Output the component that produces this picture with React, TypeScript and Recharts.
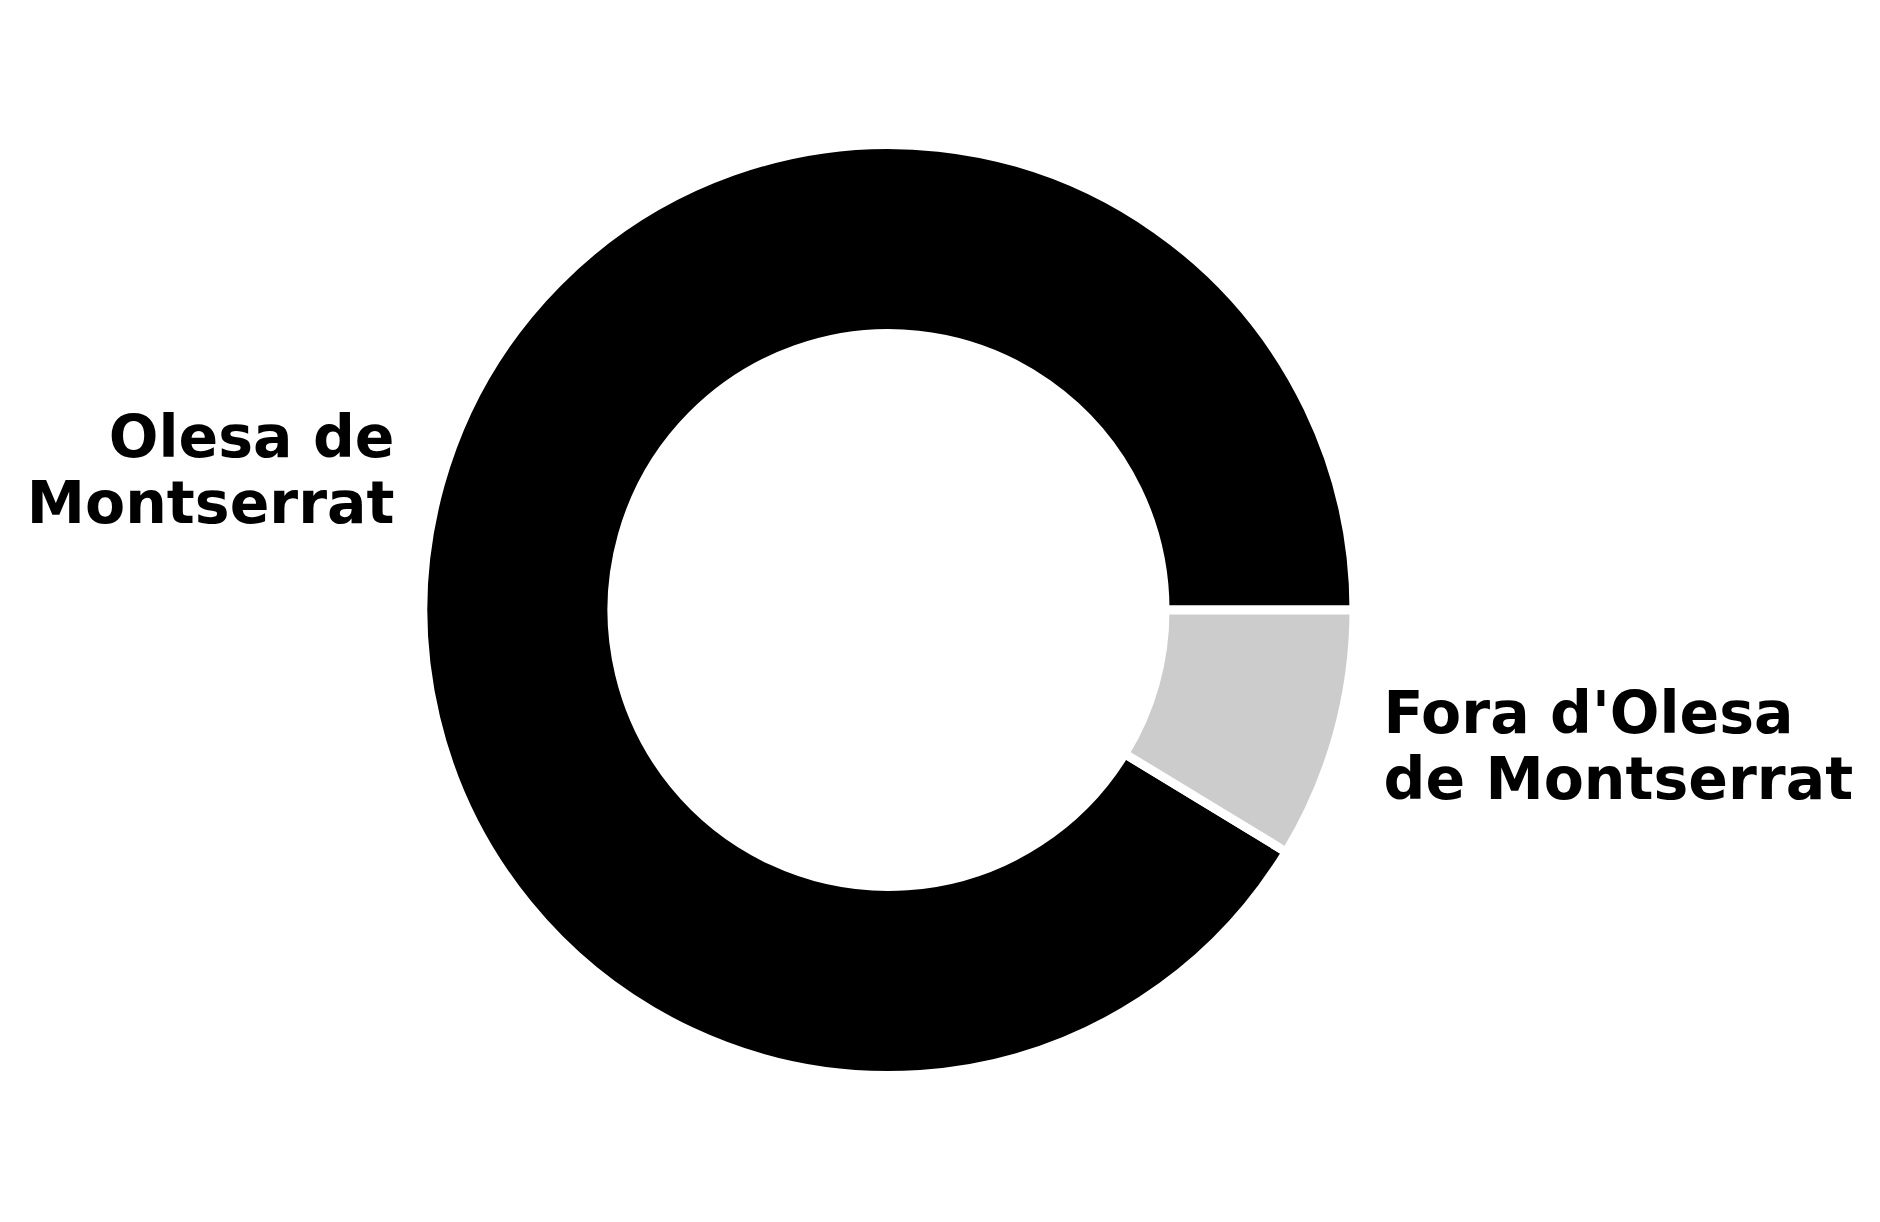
import React from 'react';
import { PieChart, Pie, Cell } from 'recharts';

// share of residents by origin
const categories = ["Olesa de Montserrat", "Fora d'Olesa de Montserrat"];
const shares = [91.3, 8.7];
const labelLines = [
  ['Olesa de', 'Montserrat'],
  ["Fora d'Olesa", 'de Montserrat'],
];
const colors = ['#000000', '#cccccc'];

const data = categories.map((name, i) => ({ name, value: shares[i] }));

const RADIAN = Math.PI / 180;

const renderLabel = (props: any) => {
  const { cx, cy, midAngle, outerRadius, index } = props;
  const r = outerRadius * 1.1;
  const x = cx + r * Math.cos(-midAngle * RADIAN);
  const y = cy + r * Math.sin(-midAngle * RADIAN);
  const lines = labelLines[index];
  const tx = x > cx ? x + 2 : x - 1;
  return (
    <text
      x={tx}
      y={y}
      textAnchor={x > cx ? 'start' : 'end'}
      fill="#000"
      style={{ fontFamily: '"DejaVu Sans", sans-serif', fontWeight: 'bold', fontSize: 58.5 }}
    >
      {lines.map((line, i) => (
        <tspan key={i} x={tx} y={y - 15 + i * 66}>
          {line}
        </tspan>
      ))}
    </text>
  );
};

export default function App() {
  return (
    <div style={{ position: 'absolute', left: 0, top: 0, width: 1880, height: 1222, background: '#fff' }}>
      <PieChart width={1880} height={1222} margin={{ top: 0, right: 0, bottom: 0, left: 0 }}>
        <Pie
          data={data}
          dataKey="value"
          nameKey="name"
          cx={888.5}
          cy={610}
          innerRadius={276.5}
          outerRadius={465.5}
          startAngle={0}
          endAngle={360}
          stroke="#ffffff"
          strokeWidth={9}
          label={renderLabel}
          labelLine={false}
          isAnimationActive={false}
        >
          {data.map((d, i) => (
            <Cell key={d.name} fill={colors[i]} />
          ))}
        </Pie>
      </PieChart>
    </div>
  );
}
